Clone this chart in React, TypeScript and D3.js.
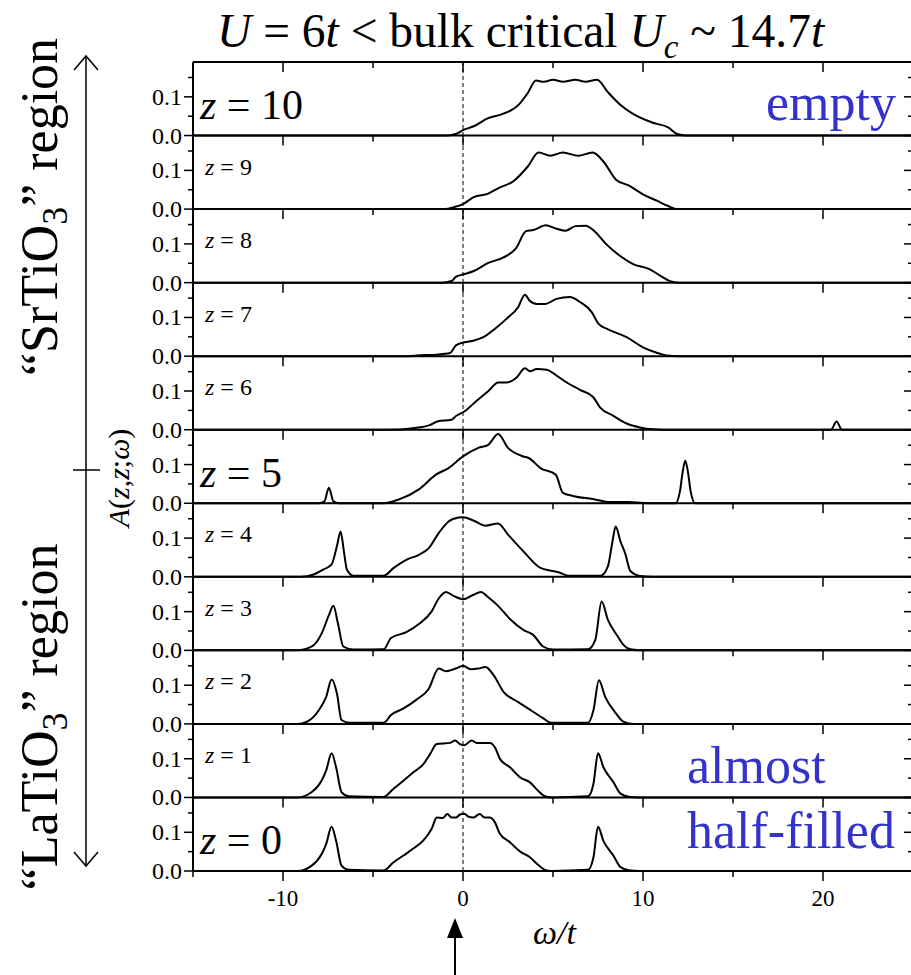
import React from "react";
import * as d3 from "d3";

type Pt = [number, number];

// ---------- data ----------
const panelZ = [10, 9, 8, 7, 6, 5, 4, 3, 2, 1, 0];
const xTickValues = [-15, -10, -5, 0, 5, 10, 15, 20, 25];
const xTickLabels = [-10, 0, 10, 20];
const yTickValues = [0, 0.05, 0.1, 0.15];
const yTickLabels = [0.0, 0.1];
const bigLabelZ = [10, 5, 0];

const z10: Pt[] = [[-15,0],[-1,0],[-0.4,0.004],[0,0.014],[0.6,0.024],[1.4,0.045],[2.1,0.054],[3.1,0.08],[3.6,0.11],[4.05,0.142],[4.5,0.139],[5.0,0.144],[5.55,0.139],[6.25,0.144],[6.8,0.139],[7.45,0.144],[8.05,0.112],[8.75,0.079],[9.45,0.056],[10.55,0.033],[11.4,0.021],[11.9,0.004],[12.4,0],[25,0]];
const z9: Pt[] = [[-15,0],[-1,0],[-0.5,0.005],[0,0.013],[0.6,0.031],[1.4,0.04],[2.0,0.055],[2.8,0.072],[3.6,0.11],[4.2,0.146],[4.85,0.138],[5.55,0.146],[6.4,0.138],[7.2,0.146],[7.8,0.123],[8.5,0.076],[9.2,0.061],[10.0,0.038],[10.8,0.021],[11.4,0.008],[11.9,0],[25,0]];
const z8: Pt[] = [[-15,0],[-1.2,0],[-0.6,0.005],[-0.4,0.015],[0,0.021],[0.6,0.03],[1.4,0.051],[2.25,0.065],[2.95,0.089],[3.5,0.133],[3.9,0.136],[4.6,0.148],[5.15,0.14],[5.7,0.134],[6.25,0.146],[6.8,0.147],[7.35,0.131],[7.9,0.102],[8.75,0.068],[9.45,0.048],[10.3,0.036],[11.0,0.017],[11.5,0.004],[12.0,0],[25,0]];
const z7: Pt[] = [[-15,0],[-3,0],[-2.57,0.002],[-1.46,0.004],[-0.72,0.008],[-0.39,0.028],[0.07,0.036],[0.57,0.04],[1.13,0.049],[1.78,0.071],[2.43,0.097],[3.07,0.127],[3.44,0.159],[3.69,0.144],[4.1,0.135],[4.56,0.135],[5.2,0.148],[5.94,0.153],[6.5,0.14],[7.15,0.114],[7.52,0.084],[7.98,0.071],[9.09,0.049],[10.0,0.023],[10.76,0.009],[11.3,0.002],[12,0],[25,0]];
const z6: Pt[] = [[-15,0],[-4.1,0],[-2.78,0.004],[-1.85,0.012],[-1.39,0.022],[-0.65,0.026],[-0.37,0.036],[0.07,0.047],[0.76,0.075],[1.41,0.1],[1.96,0.122],[2.43,0.122],[2.98,0.135],[3.44,0.159],[3.72,0.151],[4.1,0.157],[4.65,0.155],[5.2,0.14],[5.76,0.122],[6.5,0.103],[7.24,0.084],[7.61,0.058],[8.35,0.036],[9.09,0.016],[9.83,0.006],[10.57,0.001],[11.1,0],[20.45,0],[20.75,0.021],[21.05,0],[25,0]];
const z5: Pt[] = [[-15,0],[-8,0],[-7.7,0.005],[-7.45,0.04],[-7.2,0.005],[-6.9,0],[-4.4,0],[-3.55,0.01],[-2.45,0.036],[-1.5,0.074],[-0.8,0.091],[0,0.121],[0.85,0.143],[1.4,0.151],[1.95,0.179],[2.5,0.143],[3.35,0.121],[3.65,0.117],[4.3,0.091],[5.15,0.074],[5.55,0.027],[6.1,0.019],[7.35,0.01],[8.05,0.003],[9.2,0.003],[10.5,0],[11.8,0],[12.05,0.03],[12.2,0.08],[12.35,0.11],[12.5,0.08],[12.65,0.03],[12.9,0],[25,0]];
const z4: Pt[] = [[-15,0],[-9,0],[-8.3,0.006],[-7.75,0.019],[-7.3,0.032],[-7.0,0.08],[-6.8,0.117],[-6.6,0.06],[-6.45,0.019],[-6.1,0.003],[-4.4,0.003],[-3.85,0.023],[-3.15,0.044],[-2.45,0.057],[-1.9,0.074],[-1.35,0.113],[-0.8,0.143],[-0.25,0.153],[0,0.154],[0.6,0.145],[1.25,0.132],[1.95,0.138],[2.5,0.109],[3.35,0.066],[4.3,0.023],[5.3,0.012],[5.85,0.003],[7.65,0.003],[8.05,0.027],[8.3,0.09],[8.48,0.13],[8.75,0.091],[9.0,0.062],[9.3,0.015],[9.85,0.002],[10.5,0],[25,0]];
const z3: Pt[] = [[-15,0],[-9.2,0],[-8.4,0.01],[-7.85,0.044],[-7.45,0.091],[-7.2,0.115],[-6.95,0.07],[-6.65,0.01],[-6.1,0.002],[-4.4,0.003],[-4.0,0.032],[-3.15,0.047],[-2.45,0.068],[-1.75,0.1],[-1.35,0.134],[-0.95,0.151],[-0.5,0.14],[0,0.132],[0.55,0.143],[1.0,0.151],[1.4,0.137],[1.95,0.115],[2.65,0.079],[3.35,0.053],[3.9,0.04],[4.45,0.01],[5.0,0.002],[6.95,0.003],[7.35,0.027],[7.7,0.126],[8.05,0.079],[8.6,0.036],[8.9,0.015],[9.3,0.003],[10,0],[25,0]];
const z2: Pt[] = [[-15,0],[-9.2,0],[-8.7,0.005],[-8.0,0.036],[-7.6,0.07],[-7.3,0.115],[-7.0,0.078],[-6.75,0.01],[-6.3,0.003],[-4.4,0.003],[-4.0,0.023],[-3.3,0.04],[-2.6,0.062],[-1.9,0.091],[-1.35,0.143],[-0.95,0.136],[-0.4,0.143],[0,0.15],[0.45,0.141],[0.85,0.143],[1.25,0.147],[1.7,0.126],[2.25,0.083],[3.05,0.057],[3.75,0.036],[4.45,0.015],[4.9,0.003],[6.95,0.003],[7.25,0.036],[7.55,0.113],[7.9,0.07],[8.5,0.027],[8.9,0.006],[9.5,0],[25,0]];
const z1: Pt[] = [[-15,0],[-9.2,0],[-8.4,0.014],[-7.85,0.044],[-7.6,0.07],[-7.3,0.114],[-7.05,0.078],[-6.75,0.014],[-6.35,0.003],[-4.43,0.001],[-3.87,0.022],[-3.31,0.043],[-2.76,0.065],[-2.2,0.086],[-1.83,0.112],[-1.46,0.138],[-0.72,0.141],[-0.44,0.147],[-0.17,0.138],[0.07,0.135],[0.48,0.147],[0.76,0.141],[1.5,0.141],[1.78,0.129],[2.06,0.099],[2.61,0.078],[3.17,0.052],[3.72,0.039],[4.18,0.017],[4.54,0.003],[4.91,0],[6.95,0.003],[7.25,0.036],[7.5,0.114],[7.8,0.078],[8.35,0.04],[8.75,0.01],[9.2,0.002],[9.8,0],[25,0]];
const z0: Pt[] = [[-15,0],[-9.2,0],[-8.4,0.014],[-7.85,0.044],[-7.6,0.07],[-7.3,0.114],[-7.05,0.078],[-6.75,0.014],[-6.35,0.003],[-4.43,0.001],[-3.87,0.022],[-3.31,0.04],[-2.76,0.058],[-2.2,0.079],[-1.74,0.109],[-1.46,0.138],[-1.13,0.137],[-0.87,0.147],[-0.63,0.138],[-0.39,0.138],[-0.17,0.146],[0.07,0.148],[0.31,0.14],[0.56,0.138],[0.93,0.147],[1.2,0.138],[1.48,0.138],[1.76,0.127],[2.04,0.097],[2.59,0.075],[3.15,0.051],[3.7,0.036],[4.17,0.016],[4.54,0.003],[4.91,0],[6.95,0.003],[7.25,0.036],[7.5,0.114],[7.8,0.078],[8.35,0.04],[8.75,0.01],[9.2,0.002],[9.8,0],[25,0]];

const spectra: Pt[][] = [z10, z9, z8, z7, z6, z5, z4, z3, z2, z1, z0];

// ---------- layout ----------
const W = 911;
const H = 975;
const LEFT = 193;
const RIGHT = 913;
const TOP = 62;
const BOTTOM = 871;
const PH = (BOTTOM - TOP) / panelZ.length;
const FONT = "'Liberation Serif', 'Times New Roman', Times, serif";
const BLUE = "#3333cc";

const x = d3.scaleLinear().domain([-15, 25]).range([LEFT, RIGHT]);

export default function App() {
  return (
    <svg
      width={W}
      height={H}
      viewBox={`0 0 ${W} ${H}`}
      style={{ position: "absolute", left: 0, top: 0, background: "#fff", fontFamily: FONT }}
    >
      <rect x={0} y={0} width={W} height={H} fill="#fff" />
      {/* Title */}
      <text x={217} y={47} fontSize={47.5} fill="#000">
        <tspan fontStyle="italic">U</tspan>
        <tspan> = 6</tspan>
        <tspan fontStyle="italic">t</tspan>
        <tspan> &lt; bulk critical </tspan>
        <tspan fontStyle="italic">U</tspan>
        <tspan fontStyle="italic" fontSize={33} dy={11}>c</tspan>
        <tspan dy={-11}> ~ 14.7</tspan>
        <tspan fontStyle="italic">t</tspan>
      </text>

      {panelZ.map((z, i) => {
        const top = TOP + i * PH;
        const base = top + PH;
        const y = d3.scaleLinear().domain([0, 0.19]).range([base, top]);
        const line = d3
          .line<Pt>()
          .x((d) => x(d[0]))
          .y((d) => y(d[1]))
          .curve(d3.curveMonotoneX);
        const big = bigLabelZ.includes(z);
        return (
          <g key={z}>
            <path d={line(spectra[i]) || ""} fill="none" stroke="#000" strokeWidth={2} strokeLinejoin="round" />
            {yTickValues.map((v) => (
              <line
                key={"l" + v}
                x1={LEFT}
                x2={LEFT - (Math.abs(v - 0.1) < 1e-9 || v === 0 ? 9 : 5)}
                y1={y(v)}
                y2={y(v)}
                stroke="#000"
                strokeWidth={1.5}
              />
            ))}
            {yTickValues.map((v) => (
              <line
                key={"r" + v}
                x1={RIGHT}
                x2={RIGHT - (Math.abs(v - 0.1) < 1e-9 || v === 0 ? 9 : 5)}
                y1={y(v)}
                y2={y(v)}
                stroke="#000"
                strokeWidth={1.5}
              />
            ))}
            {yTickLabels.map((v) => (
              <text
                key={"t" + v}
                x={LEFT - 11}
                y={y(v) + 8}
                fontSize={24}
                textAnchor="end"
                fill="#000"
              >
                {v.toFixed(1)}
              </text>
            ))}
            {xTickValues.map((v) => (
              <line
                key={"x" + v}
                x1={x(v)}
                x2={x(v)}
                y1={top}
                y2={top + (v % 10 === 0 ? 10 : 6)}
                stroke="#000"
                strokeWidth={1.5}
              />
            ))}
            <line x1={LEFT} x2={RIGHT} y1={base} y2={base} stroke="#000" strokeWidth={2} />
            <text x={big ? 200 : 205} y={big ? top + 57 : top + 39} fontSize={big ? 42 : 24} fill="#000">
              <tspan fontStyle="italic">z</tspan>
              <tspan>{" = " + z}</tspan>
            </text>
          </g>
        );
      })}

      {/* bottom axis ticks */}
      {xTickValues.map((v) => (
        <line
          key={"bx" + v}
          x1={x(v)}
          x2={x(v)}
          y1={BOTTOM}
          y2={BOTTOM + (v % 10 === 0 ? 10 : 6)}
          stroke="#000"
          strokeWidth={1.5}
        />
      ))}
      {xTickLabels.map((v) => (
        <text key={"bl" + v} x={x(v)} y={906} fontSize={23} textAnchor="middle" fill="#000">
          {v}
        </text>
      ))}

      {/* frame */}
      <line x1={LEFT} x2={RIGHT} y1={TOP} y2={TOP} stroke="#000" strokeWidth={2} />
      <line x1={LEFT} x2={LEFT} y1={TOP} y2={BOTTOM} stroke="#000" strokeWidth={2} />
      <line x1={RIGHT} x2={RIGHT} y1={TOP} y2={BOTTOM} stroke="#000" strokeWidth={2} />

      {/* zero line */}
      <line x1={x(0)} x2={x(0)} y1={TOP} y2={BOTTOM} stroke="#000" strokeWidth={1} strokeDasharray="4,3" />

      {/* blue annotations */}
      <text x={896} y={120} fontSize={52} textAnchor="end" fill={BLUE}>empty</text>
      <text x={687} y={783} fontSize={52} fill={BLUE}>almost</text>
      <text x={687} y={848} fontSize={52} fill={BLUE}>half-filled</text>

      {/* x-axis title */}
      <text x={533} y={944} fontSize={34} fontStyle="italic" fill="#000">ω/t</text>

      {/* arrow under zero */}
      <line x1={455} x2={455} y1={975} y2={930} stroke="#000" strokeWidth={2} />
      <path d="M455,918 L447,938 L463,938 Z" fill="#000" />

      {/* y-axis title */}
      <text transform="translate(129,478) rotate(-90)" fontSize={30} textAnchor="middle" fill="#000">
        <tspan fontStyle="italic">A</tspan>
        <tspan>(</tspan>
        <tspan fontStyle="italic">z</tspan>
        <tspan>,</tspan>
        <tspan fontStyle="italic">z</tspan>
        <tspan>;</tspan>
        <tspan fontStyle="italic">ω</tspan>
        <tspan>)</tspan>
      </text>

      {/* region arrow */}
      <line x1={86} x2={86} y1={56} y2={866} stroke="#000" strokeWidth={1.5} />
      <path d="M74,70 L86,56 L98,70" fill="none" stroke="#000" strokeWidth={1.5} />
      <path d="M74,852 L86,866 L98,852" fill="none" stroke="#000" strokeWidth={1.5} />
      <line x1={73} x2={100} y1={470} y2={470} stroke="#000" strokeWidth={1.5} />

      {/* region labels */}
      <text transform="translate(57,207) rotate(-90)" fontSize={52} textAnchor="middle" fill="#000">
        <tspan>“SrTiO</tspan>
        <tspan fontSize={36} dy={10}>3</tspan>
        <tspan dy={-10}>” region</tspan>
      </text>
      <text transform="translate(57,717) rotate(-90)" fontSize={52} textAnchor="middle" fill="#000">
        <tspan>“LaTiO</tspan>
        <tspan fontSize={36} dy={10}>3</tspan>
        <tspan dy={-10}>” region</tspan>
      </text>
    </svg>
  );
}
